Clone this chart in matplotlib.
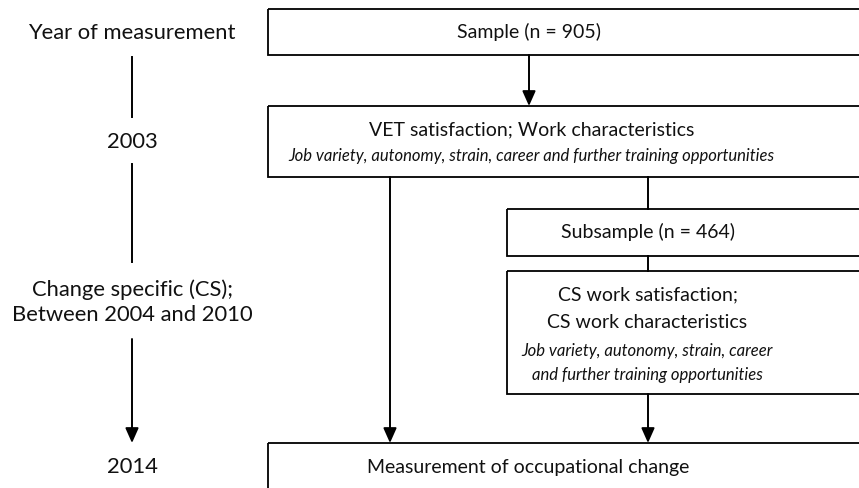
import matplotlib.pyplot as plt
from matplotlib.patches import Rectangle

plt.rcParams['font.family'] = ['Lato', 'DejaVu Sans']

# timeline labels (left column)
time_labels = ["Year of measurement", "2003", "Change specific (CS);\nBetween 2004 and 2010", "2014"]
time_y = [33, 142, 302, 467]

# boxes: x0, y0, x1, y1 (pixel layout, y down)
boxes = {
    "sample": (268, 9, 900, 55),
    "vet": (268, 106, 900, 177),
    "sub": (507, 209, 900, 256),
    "cs": (507, 271, 900, 394),
    "meas": (268, 443, 900, 520),
}

# box texts: (x, y, text, style)
box_texts = [
    (529, 32, "Sample (n = 905)", "normal"),
    (532, 130, "VET satisfaction; Work characteristics", "normal"),
    (531, 156, "Job variety, autonomy, strain, career and further training opportunities", "italic"),
    (648, 232, "Subsample (n = 464)", "normal"),
    (648, 295, "CS work satisfaction;", "normal"),
    (647, 323, "CS work characteristics", "normal"),
    (647, 351, "Job variety, autonomy, strain, career", "italic"),
    (647, 375, "and further training opportunities", "italic"),
    (528, 467, "Measurement of occupational change", "normal"),
]

# connectors: (x, y_start, y_end, arrowhead)
links = [
    (529, 55, 106, True),
    (390, 177, 443, True),
    (648, 177, 209, False),
    (648, 256, 271, False),
    (648, 394, 443, True),
    (132, 57, 117, False),
    (132, 164, 262, False),
    (132, 339, 443, True),
]

fig = plt.figure(figsize=(8.59, 4.88), dpi=100)
ax = fig.add_axes([0, 0, 1, 1])
ax.set_xlim(0, 859)
ax.set_ylim(488, 0)
ax.axis("off")

for name, (x0, y0, x1, y1) in boxes.items():
    ax.add_patch(Rectangle((x0, y0), x1 - x0, y1 - y0, fill=False,
                           edgecolor="black", linewidth=1.3, clip_on=True))

for x, y, s, style in box_texts:
    fs = 12 if style == "italic" else 14
    ax.text(x, y, s, ha="center", va="center", fontsize=fs, style=style, color="#111111")

for s, y in zip(time_labels, time_y):
    ax.text(132, y, s, ha="center", va="center", fontsize=15.8, color="#111111",
            linespacing=1.3)

for x, y0, y1, head in links:
    if head:
        ax.annotate("", xy=(x, y1), xytext=(x, y0),
                    arrowprops=dict(arrowstyle="-|>,head_length=0.9,head_width=0.4",
                                    color="black", lw=1.4, shrinkA=0, shrinkB=0))
    else:
        ax.plot([x, x], [y0, y1], color="black", lw=1.4)

fig.savefig("out.png", dpi=100, facecolor="white")
